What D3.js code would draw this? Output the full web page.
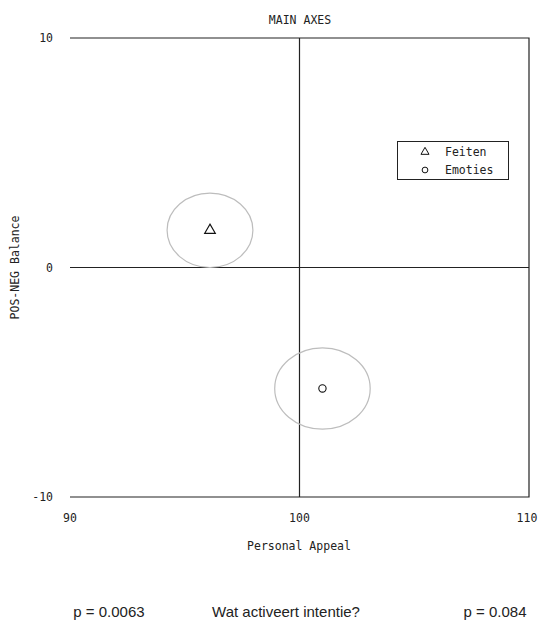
<!DOCTYPE html>
<html><head><meta charset="utf-8">
<script src="https://cdn.jsdelivr.net/npm/d3@7"></script>
<style>body{margin:0;background:#fff}svg{display:block}</style>
</head><body>
<svg id="c" width="538" height="621"></svg>
<script>
const title = "MAIN AXES";
const xLabel = "Personal Appeal";
const yLabel = "POS-NEG Balance";
const xTicks = [90, 100, 110];
const yTicks = [-10, 0, 10];
const seriesNames = ["Feiten", "Emoties"];
const seriesSymbols = ["triangle", "circle"];
const pointX = [96.1, 101.0];
const pointY = [1.62, -5.27];
const ellipseRx = [1.87, 2.08];
const ellipseRy = [1.62, 1.77];
const footLeft = "p = 0.0063";
const footCenter = "Wat activeert intentie?";
const footRight = "p = 0.084";

const svg = d3.select("#c");
const x = d3.scaleLinear().domain([90, 110]).range([70, 529]);
const y = d3.scaleLinear().domain([-10, 10]).range([497, 38]);
const mono = "'DejaVu Sans Mono', monospace";
const ink = "#222";

// frame: top, right, bottom
svg.append("path")
  .attr("d", `M${x(90)},${y(10)}H${x(110)}V${y(-10)}H${x(90)}`)
  .attr("fill", "none").attr("stroke", ink).attr("stroke-width", 1.2);
// center cross
svg.append("line").attr("x1", x(100)).attr("x2", x(100)).attr("y1", y(10)).attr("y2", y(-10))
  .attr("stroke", ink).attr("stroke-width", 1.2);
svg.append("line").attr("x1", x(90)).attr("x2", x(110)).attr("y1", y(0)).attr("y2", y(0))
  .attr("stroke", ink).attr("stroke-width", 1.2);

// ticks labels
svg.selectAll(".xt").data(xTicks).join("text")
  .attr("x", d => Math.min(x(d), 527)).attr("y", 522).attr("text-anchor", "middle")
  .attr("font-family", mono).attr("font-size", 11.5).attr("fill", ink).text(d => d);
svg.selectAll(".yt").data(yTicks).join("text")
  .attr("x", 53).attr("y", d => y(d) + 4).attr("text-anchor", "end")
  .attr("font-family", mono).attr("font-size", 11.5).attr("fill", ink).text(d => d);

svg.append("text").attr("x", 300).attr("y", 24).attr("text-anchor", "middle")
  .attr("font-family", mono).attr("font-size", 11.5).attr("fill", ink).text(title);
svg.append("text").attr("x", 299).attr("y", 550).attr("text-anchor", "middle")
  .attr("font-family", mono).attr("font-size", 11.5).attr("fill", ink).text(xLabel);
svg.append("text").attr("transform", `translate(19,${y(0)}) rotate(-90)`).attr("text-anchor", "middle")
  .attr("font-family", mono).attr("font-size", 11.5).attr("fill", ink).text(yLabel);

// ellipses
const kx = (x(1) - x(0));
const ky = (y(0) - y(1));
svg.selectAll(".el").data(pointX).join("ellipse")
  .attr("cx", (d, i) => x(d)).attr("cy", (d, i) => y(pointY[i]))
  .attr("rx", (d, i) => ellipseRx[i] * kx).attr("ry", (d, i) => ellipseRy[i] * ky)
  .attr("fill", "none").attr("stroke", "#bdbdbd").attr("stroke-width", 1.2);

const sym = s => d3.symbol().type(s === "triangle" ? d3.symbolTriangle : d3.symbolCircle)
  .size(s === "triangle" ? 50 : 42)();
svg.selectAll(".pt").data(pointX).join("path")
  .attr("transform", (d, i) => `translate(${x(d)},${y(pointY[i])})`)
  .attr("d", (d, i) => sym(seriesSymbols[i]))
  .attr("fill", "none").attr("stroke", "#111").attr("stroke-width", 1.1);

// legend
const lg = svg.append("g");
lg.append("rect").attr("x", 397.5).attr("y", 141.5).attr("width", 111).attr("height", 38)
  .attr("fill", "#fff").attr("stroke", ink).attr("stroke-width", 1);
seriesNames.forEach((n, i) => {
  const yy = 152 + i * 18;
  lg.append("path").attr("transform", `translate(425,${yy})`)
    .attr("d", d3.symbol().type(seriesSymbols[i] === "triangle" ? d3.symbolTriangle : d3.symbolCircle)
      .size(seriesSymbols[i] === "triangle" ? 28 : 26)())
    .attr("fill", "none").attr("stroke", "#111").attr("stroke-width", 1);
  lg.append("text").attr("x", 445).attr("y", yy + 4)
    .attr("font-family", mono).attr("font-size", 11.5).attr("fill", ink).text(n);
});

// footer
const sans = "'Liberation Sans', Arial, sans-serif";
svg.append("text").attr("x", 109).attr("y", 617).attr("text-anchor", "middle")
  .attr("font-family", sans).attr("font-size", 15).attr("fill", "#222").text(footLeft);
svg.append("text").attr("x", 286).attr("y", 617).attr("text-anchor", "middle")
  .attr("font-family", sans).attr("font-size", 15).attr("fill", "#222").text(footCenter);
svg.append("text").attr("x", 495).attr("y", 617).attr("text-anchor", "middle")
  .attr("font-family", sans).attr("font-size", 15).attr("fill", "#222").text(footRight);
</script>
</body></html>
